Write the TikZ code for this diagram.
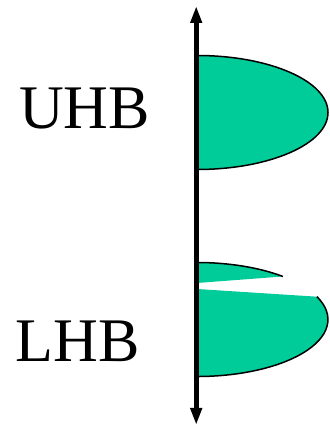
\documentclass[tikz,border=0pt]{standalone}
\usepackage{fontspec}
\setmainfont{Liberation Serif}
\usetikzlibrary{arrows.meta}
\definecolor{hbgreen}{RGB}{0,204,153}
\tikzset{
  lbl/.style={font=\fontsize{62}{68}\selectfont, anchor=base, inner sep=0pt},
  lobe/.style={fill=hbgreen},
  rim/.style={draw=black, line width=1.5pt},
  axis/.style={line width=4.6pt, -{Triangle[length=17pt,width=11pt]}}
}
\begin{document}
\begin{tikzpicture}[x=1pt,y=1pt]
\useasboundingbox (0,0) rectangle (329,427);
% upper lobe
\fill[lobe] (197,371.5) arc[start angle=90,end angle=-90,x radius=131,y radius=57] -- cycle;
\draw[rim] (197,371.5) arc[start angle=90,end angle=-90,x radius=131,y radius=57];
% lower lobe, upper sliver
\fill[lobe] (197,164.5) arc[start angle=90,end angle=49,x radius=131,y radius=57] -- (197,144) -- cycle;
\draw[rim] (197,164.5) arc[start angle=90,end angle=49,x radius=131,y radius=57];
% lower lobe, main part
\fill[lobe] (197,138) -- (317,130.3) arc[start angle=23.6,end angle=-90,x radius=131,y radius=57] -- cycle;
\draw[rim] (317,130.3) arc[start angle=23.6,end angle=-90,x radius=131,y radius=57];
% axis
\coordinate (mid) at (196.2,214);
\coordinate (top) at (196.2,421);
\coordinate (bot) at (196.2,2);
\draw[axis] (mid) -- (top);
\draw[axis] (mid) -- (bot);
% labels
\node[lbl] (uhb) at (84.5,298) {UHB};
\node[lbl] (lhb) at (78,65) {LHB};
\end{tikzpicture}
\end{document}
